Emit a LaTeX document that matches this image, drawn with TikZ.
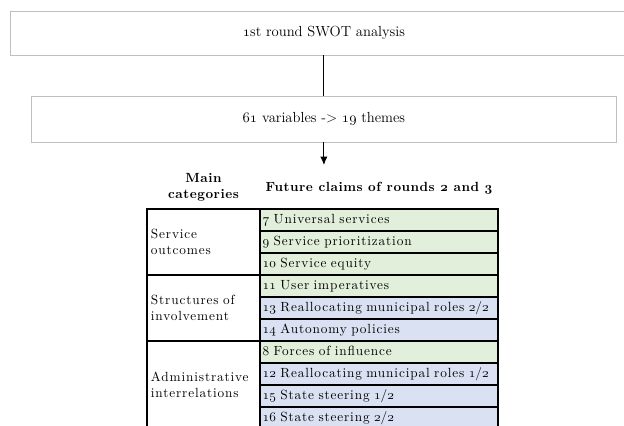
\documentclass[tikz,border=0pt]{standalone}
\usepackage{fontspec}
\newfontfamily\headlm{Latin Modern Roman}[LetterSpace=4.0]
\newfontfamily\celllm{Latin Modern Roman}[LetterSpace=6.5]
\usetikzlibrary{arrows.meta}
\usetikzlibrary{positioning}
\definecolor{claimgreen}{RGB}{226,239,218}
\definecolor{claimblue}{RGB}{217,225,242}
\definecolor{boxgray}{RGB}{191,191,191}
\newcommand{\osn}[1]{{\fontencoding{OML}\fontfamily{cmm}\fontshape{it}\selectfont #1}}

\begin{document}
\begin{tikzpicture}[
				stagebox/.style={draw=boxgray, line width=0.7pt, inner sep=0pt, font=\fontsize{11}{13}\selectfont},
				heading/.style={align=center, font=\headlm\bfseries\fontsize{10}{12}\selectfont},
				claim/.style={draw, line width=1.5pt, outer sep=0pt, inner xsep=2pt, inner ysep=0pt, minimum height=0.582cm, text width=6.15cm, text height=1.6ex, text depth=0.4ex, align=left, font=\celllm\fontsize{10}{11}\selectfont},
				category/.style={draw, line width=1.5pt, outer sep=0pt, inner xsep=3pt, minimum height=1.746cm, text width=2.78cm, align=left, font=\celllm\fontsize{10}{12.5}\selectfont},
				connector/.style={line width=0.7pt},
			]
				\useasboundingbox (0,0) rectangle (16.51,-11.271);
				\clip (0,0) rectangle (16.51,-11.271);

				\node[stagebox, minimum width=16.56cm, minimum height=1.164cm] (swot) at (8.57,-0.873) {\osn{1}st round SWOT analysis};
				\node[stagebox, minimum width=15.5cm, minimum height=1.217cm] (themes) at (8.57,-3.149) {\osn{61} variables -> \osn{19} themes};
				\coordinate (tip) at (8.57,-4.366);

				\draw[connector] (swot) -- (themes);
				\draw[connector, -{Latex[length=2.2mm, width=1.9mm]}] (themes) -- (tip);

				\node[heading] (maincat) at (5.384,-4.95) {Main\\categories};
				\node[heading] (futurecl) at (10.028,-4.97) {Future claims of rounds \osn{2} and \osn{3}};

				\node[claim, fill=claimgreen, anchor=north west] (c7) at (6.879,-5.530) {\osn{7} Universal services};
				\node[claim, fill=claimgreen, below=0pt of c7] (c9) {\osn{9} Service prioritization};
				\node[claim, fill=claimgreen, below=0pt of c9] (c10) {\osn{10} Service equity};
				\node[claim, fill=claimgreen, below=0pt of c10] (c11) {\osn{11} User imperatives};
				\node[claim, fill=claimblue, below=0pt of c11] (c13) {\osn{13} Reallocating municipal roles \osn{2}/\osn{2}};
				\node[claim, fill=claimblue, below=0pt of c13] (c14) {\osn{14} Autonomy policies};
				\node[claim, fill=claimgreen, below=0pt of c14] (c8) {\osn{8} Forces of influence};
				\node[claim, fill=claimblue, below=0pt of c8] (c12) {\osn{12} Reallocating municipal roles \osn{1}/\osn{2}};
				\node[claim, fill=claimblue, below=0pt of c12] (c15) {\osn{15} State steering \osn{1}/\osn{2}};
				\node[claim, fill=claimblue, below=0pt of c15] (c16) {\osn{16} State steering \osn{2}/\osn{2}};

				\node[category, anchor=north east] (outcomes) at (c7.north west) {Service\\outcomes};
				\node[category, below=0pt of outcomes] (involvement) {Structures of\\involvement};
				\node[category, below=0pt of involvement, minimum height=2.328cm] (interrel) {Administrative\\interrelations};
			\end{tikzpicture}
\end{document}
